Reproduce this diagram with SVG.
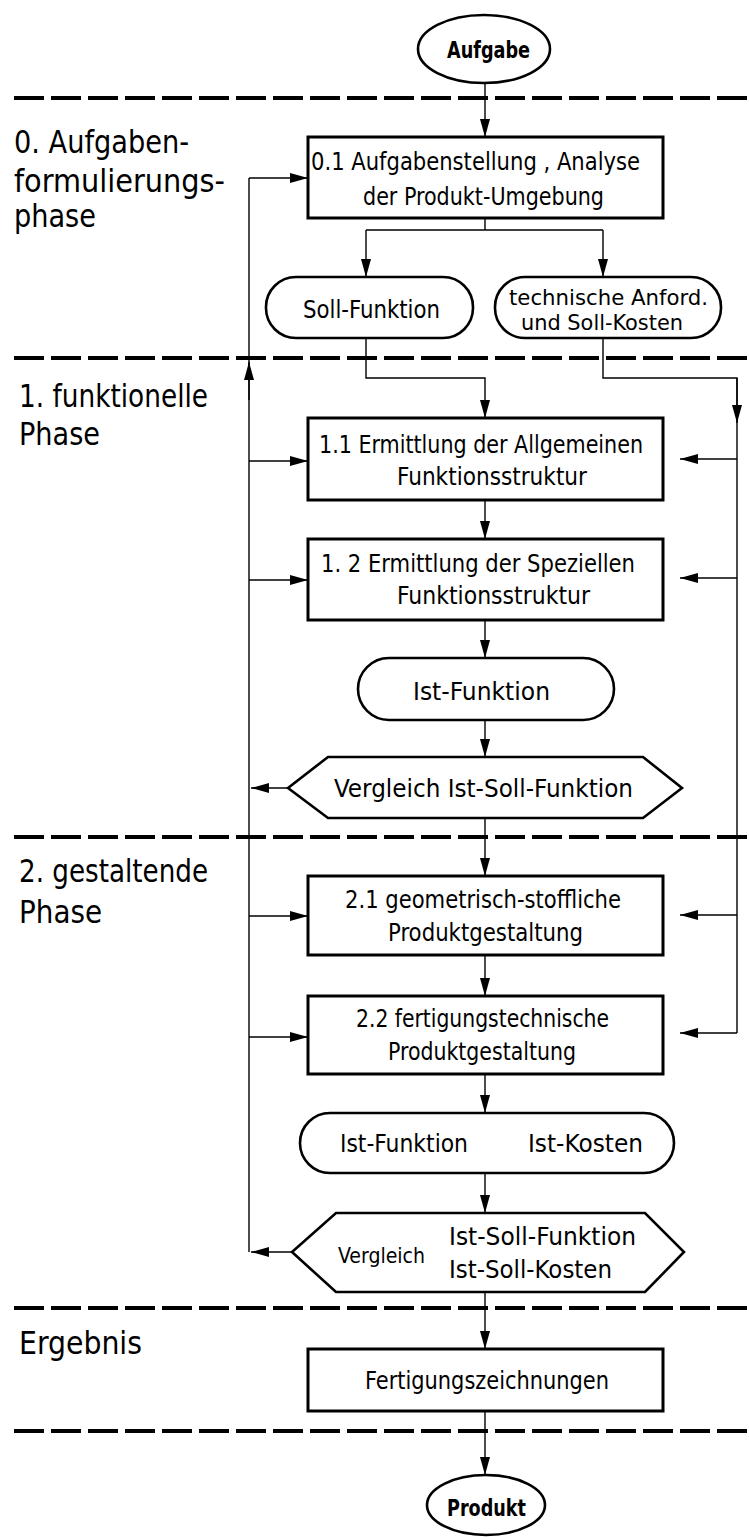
<svg xmlns="http://www.w3.org/2000/svg" width="749" height="1537" viewBox="0 0 749 1537">
  <style>
    .bg { fill: #ffffff; }
    .box { fill: #ffffff; stroke: #000; stroke-width: 3; }
    .term { fill: #ffffff; stroke: #000; stroke-width: 2.6; }
    .sep { fill: none; stroke: #000; stroke-width: 4; stroke-dasharray: 30 7; }
    .wire { fill: none; stroke: #000; stroke-width: 1.4; marker-end: url(#ah); }
    .line { fill: none; stroke: #000; stroke-width: 1.4; }
    text { font-family: "DejaVu Sans Condensed", "DejaVu Sans", sans-serif; fill: #000; }
    .t { font-size: 24px; }
    .s { font-size: 22px; }
    .ph { font-size: 32px; }
    .b { font-size: 23px; font-weight: bold; }
  </style>
  <defs>
    <marker id="ah" viewBox="0 0 18 10" refX="18" refY="5" markerWidth="18" markerHeight="10" markerUnits="userSpaceOnUse" orient="auto">
      <path d="M0,0 L18,5 L0,10 z" fill="#000"/>
    </marker>
  </defs>
  <rect class="bg" x="0" y="0" width="749" height="1537"/>

  <!-- phase separators -->
  <g id="separators">
    <line class="sep" x1="14" y1="98" x2="749" y2="98"/>
    <line class="sep" x1="14" y1="358" x2="749" y2="358"/>
    <line class="sep" x1="14" y1="837" x2="749" y2="837"/>
    <line class="sep" x1="14" y1="1308" x2="749" y2="1308"/>
    <line class="sep" x1="14" y1="1431" x2="749" y2="1431"/>
  </g>

  <!-- phase labels -->
  <g id="phase-labels">
    <text class="ph" x="14" y="153" textLength="175" lengthAdjust="spacingAndGlyphs">0. Aufgaben-</text>
    <text class="ph" x="14" y="192" textLength="211" lengthAdjust="spacingAndGlyphs">formulierungs-</text>
    <text class="ph" x="14" y="227" textLength="82" lengthAdjust="spacingAndGlyphs">phase</text>
    <text class="ph" x="19" y="407" textLength="189" lengthAdjust="spacingAndGlyphs">1. funktionelle</text>
    <text class="ph" x="19" y="445" textLength="81" lengthAdjust="spacingAndGlyphs">Phase</text>
    <text class="ph" x="19" y="882" textLength="189" lengthAdjust="spacingAndGlyphs">2. gestaltende</text>
    <text class="ph" x="19" y="923" textLength="83" lengthAdjust="spacingAndGlyphs">Phase</text>
    <text class="ph" x="19" y="1354" textLength="123" lengthAdjust="spacingAndGlyphs">Ergebnis</text>
  </g>

  <!-- connectors -->
  <g id="connectors">
    <path class="wire" d="M485,83 V137"/>
    <path class="line" d="M485,218 V230 M366,230 H603"/>
    <path class="wire" d="M366,230 V277"/>
    <path class="wire" d="M603,230 V277"/>
    <path class="wire" d="M366,338 V378 H485 V418"/>
    <path class="line" d="M603,338 V378 H737 V1033"/>
    <path class="wire" d="M737,378 V423"/>
    <path class="wire" d="M737,459 H680"/>
    <path class="wire" d="M737,578 H680"/>
    <path class="wire" d="M737,915 H680"/>
    <path class="wire" d="M737,1033 H680"/>
    <path class="wire" d="M485,500 V539"/>
    <path class="wire" d="M485,620 V658"/>
    <path class="wire" d="M485,720 V757"/>
    <path class="wire" d="M485,818 V876"/>
    <path class="wire" d="M485,955 V996"/>
    <path class="wire" d="M485,1074 V1113"/>
    <path class="wire" d="M485,1173 V1213"/>
    <path class="wire" d="M485,1292 V1349"/>
    <path class="wire" d="M485,1411 V1475"/>
    <!-- feedback loop on the left -->
    <path class="line" d="M249,1252 V178"/>
    <path class="wire" d="M249,400 V362"/>
    <path class="wire" d="M249,178 H308"/>
    <path class="wire" d="M249,461 H308"/>
    <path class="wire" d="M249,580 H308"/>
    <path class="wire" d="M249,916 H308"/>
    <path class="wire" d="M249,1037 H308"/>
    <path class="wire" d="M288,788 H251"/>
    <path class="wire" d="M292,1252 H251"/>
  </g>

  <g id="aufgabe">
    <ellipse class="term" cx="484" cy="49" rx="66" ry="34"/>
    <text class="b" x="447" y="58" textLength="83" lengthAdjust="spacingAndGlyphs">Aufgabe</text>
  </g>

  <g id="step-0-1">
    <rect class="box" x="308" y="137" width="355" height="81"/>
    <text class="t" x="311" y="170" textLength="329" lengthAdjust="spacingAndGlyphs">0.1 Aufgabenstellung , Analyse</text>
    <text class="t" x="363" y="205" textLength="241" lengthAdjust="spacingAndGlyphs">der Produkt-Umgebung</text>
  </g>

  <g id="soll-funktion">
    <rect class="term" x="266" y="277" width="207" height="61" rx="30" ry="30"/>
    <text class="t" x="303" y="318" textLength="137" lengthAdjust="spacingAndGlyphs">Soll-Funktion</text>
  </g>

  <g id="anforderungen">
    <rect class="term" x="495" y="277" width="226" height="61" rx="30" ry="30"/>
    <text class="s" x="509" y="305" textLength="199" lengthAdjust="spacingAndGlyphs">technische Anford.</text>
    <text class="s" x="521" y="330" textLength="162" lengthAdjust="spacingAndGlyphs">und Soll-Kosten</text>
  </g>

  <g id="step-1-1">
    <rect class="box" x="308" y="418" width="355" height="82"/>
    <text class="t" x="319" y="453" textLength="324" lengthAdjust="spacingAndGlyphs">1.1 Ermittlung der Allgemeinen</text>
    <text class="t" x="397" y="485" textLength="190" lengthAdjust="spacingAndGlyphs">Funktionsstruktur</text>
  </g>

  <g id="step-1-2">
    <rect class="box" x="308" y="539" width="355" height="81"/>
    <text class="t" x="321" y="572" textLength="314" lengthAdjust="spacingAndGlyphs">1. 2 Ermittlung der Speziellen</text>
    <text class="t" x="397" y="604" textLength="193" lengthAdjust="spacingAndGlyphs">Funktionsstruktur</text>
  </g>

  <g id="ist-funktion">
    <rect class="term" x="358" y="658" width="256" height="62" rx="31" ry="31"/>
    <text class="t" x="413" y="700" textLength="137" lengthAdjust="spacingAndGlyphs">Ist-Funktion</text>
  </g>

  <g id="vergleich-1">
    <polygon class="term" points="328,757 643,757 682,788 643,818 328,818 288,788"/>
    <text class="t" x="334" y="797" textLength="299" lengthAdjust="spacingAndGlyphs">Vergleich Ist-Soll-Funktion</text>
  </g>

  <g id="step-2-1">
    <rect class="box" x="308" y="876" width="355" height="79"/>
    <text class="t" x="345" y="908" textLength="276" lengthAdjust="spacingAndGlyphs">2.1 geometrisch-stoffliche</text>
    <text class="t" x="388" y="941" textLength="195" lengthAdjust="spacingAndGlyphs">Produktgestaltung</text>
  </g>

  <g id="step-2-2">
    <rect class="box" x="308" y="996" width="355" height="78"/>
    <text class="t" x="356" y="1027" textLength="253" lengthAdjust="spacingAndGlyphs">2.2 fertigungstechnische</text>
    <text class="t" x="388" y="1060" textLength="188" lengthAdjust="spacingAndGlyphs">Produktgestaltung</text>
  </g>

  <g id="ist-werte">
    <rect class="term" x="300" y="1113" width="374" height="60" rx="30" ry="30"/>
    <text class="t" x="340" y="1152" textLength="128" lengthAdjust="spacingAndGlyphs">Ist-Funktion</text>
    <text class="t" x="528" y="1152" textLength="115" lengthAdjust="spacingAndGlyphs">Ist-Kosten</text>
  </g>

  <g id="vergleich-2">
    <polygon class="term" points="336,1213 645,1213 684,1252 645,1292 336,1292 292,1252"/>
    <text class="s" x="338" y="1263" textLength="87" lengthAdjust="spacingAndGlyphs">Vergleich</text>
    <text class="t" x="449" y="1245" textLength="187" lengthAdjust="spacingAndGlyphs">Ist-Soll-Funktion</text>
    <text class="t" x="449" y="1278" textLength="163" lengthAdjust="spacingAndGlyphs">Ist-Soll-Kosten</text>
  </g>

  <g id="ergebnis">
    <rect class="box" x="308" y="1349" width="355" height="62"/>
    <text class="t" x="365" y="1389" textLength="244" lengthAdjust="spacingAndGlyphs">Fertigungszeichnungen</text>
  </g>

  <g id="produkt">
    <ellipse class="term" cx="486" cy="1505" rx="59" ry="30"/>
    <text class="b" x="447" y="1516" textLength="79" lengthAdjust="spacingAndGlyphs">Produkt</text>
  </g>
</svg>
